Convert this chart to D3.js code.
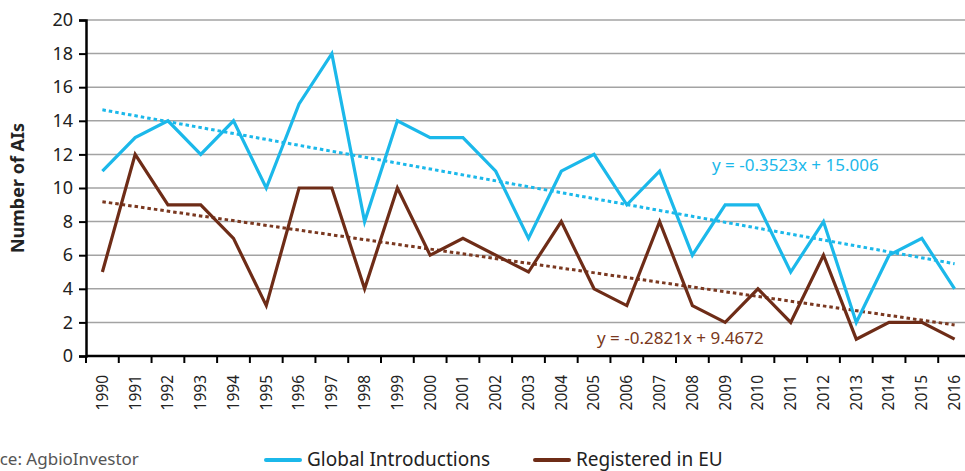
<!DOCTYPE html>
<html>
<head>
<meta charset="utf-8">
<script src="https://cdn.jsdelivr.net/npm/d3@7"></script>
<style>
  body { margin: 0; background: #fff; }
  svg { font-family: "Noto Sans", sans-serif; }
</style>
</head>
<body>
<div id="chart"></div>
<script>
var years = [1990,1991,1992,1993,1994,1995,1996,1997,1998,1999,2000,2001,2002,2003,
             2004,2005,2006,2007,2008,2009,2010,2011,2012,2013,2014,2015,2016];
var globalIntro = [11,13,14,12,14,10,15,18,8,14,13,13,11,7,11,12,9,11,6,9,9,5,8,2,6,7,4];
var registeredEU = [5,12,9,9,7,3,10,10,4,10,6,7,6,5,8,4,3,8,3,2,4,2,6,1,2,2,1];
var yTicks = [0,2,4,6,8,10,12,14,16,18,20];
var trendGlobal = {slope: -0.3523, intercept: 15.006, label: "y = -0.3523x + 15.006"};
var trendEU = {slope: -0.2821, intercept: 9.4672, label: "y = -0.2821x + 9.4672"};

var blue = "#1bb8ea", brown = "#6e2c17";

var width = 965, height = 471;
var svg = d3.select("#chart").append("svg")
  .attr("width", width)
  .attr("height", height);

var x = d3.scaleBand().domain(years).range([86, 971]);
var y = d3.scaleLinear().domain([0, 20]).range([356, 20]);
var cx = function(d){ return x(d) + x.bandwidth()/2; };

// gridlines
svg.append("g")
  .selectAll("line")
  .data(yTicks.slice(1))
  .enter().append("line")
    .attr("x1", 86).attr("x2", 971)
    .attr("y1", function(d){ return y(d); })
    .attr("y2", function(d){ return y(d); })
    .style("stroke", "#a3a3a3")
    .style("stroke-width", 1.5);

// y axis
var yAxis = svg.append("g")
  .attr("transform", "translate(86,0)")
  .call(d3.axisLeft(y).tickValues(yTicks).tickSize(7).tickPadding(6));
yAxis.select(".domain").style("stroke", "#000").style("stroke-width", 2.5);
yAxis.selectAll(".tick line").style("stroke", "#000").style("stroke-width", 2);
yAxis.selectAll("text")
  .style("font-size", "18px")
  .style("fill", "#222")
  .style("font-family", "'Noto Sans', sans-serif");

// x axis
var xAxis = svg.append("g")
  .attr("transform", "translate(0,356)")
  .call(d3.axisBottom(x).tickSize(0).tickPadding(0));
xAxis.select(".domain").remove();
xAxis.append("line")
  .attr("x1", 86).attr("x2", 971)
  .style("stroke", "#000").style("stroke-width", 2.5);
xAxis.selectAll(".boundary")
  .data(years)
  .enter().append("line")
    .attr("class", "boundary")
    .attr("x1", function(d){ return x(d); })
    .attr("x2", function(d){ return x(d); })
    .attr("y1", 0).attr("y2", 7)
    .style("stroke", "#000").style("stroke-width", 2);
xAxis.selectAll(".tick text")
  .attr("transform", "rotate(-90)")
  .attr("x", -19)
  .attr("y", 0)
  .attr("dy", "0.35em")
  .style("text-anchor", "end")
  .style("font-size", "15.5px")
  .style("fill", "#222")
  .style("font-family", "'Noto Sans', sans-serif");

// y title
svg.append("text")
  .attr("transform", "translate(24,188) rotate(-90)")
  .attr("text-anchor", "middle")
  .style("font-size", "18px")
  .style("font-weight", "bold")
  .style("fill", "#222")
  .text("Number of AIs");

// trend lines
function drawTrend(t, color) {
  var pts = [years[0], years[years.length-1]].map(function(yr){
    var i = years.indexOf(yr) + 1;
    return [cx(yr), y(t.slope*i + t.intercept)];
  });
  svg.append("path")
    .attr("d", d3.line()(pts))
    .style("fill", "none")
    .style("stroke", color)
    .style("stroke-width", 3)
    .style("stroke-dasharray", "3.5,3");
}
drawTrend(trendGlobal, blue);
drawTrend(trendEU, "#7a3820");

// series
var line = d3.line()
  .x(function(d, i){ return cx(years[i]); })
  .y(function(d){ return y(d); });

svg.append("path")
  .datum(globalIntro)
  .attr("d", line)
  .style("fill", "none")
  .style("stroke", blue)
  .style("stroke-width", 3.2);

svg.append("path")
  .datum(registeredEU)
  .attr("d", line)
  .style("fill", "none")
  .style("stroke", brown)
  .style("stroke-width", 3.2);

// trend labels
svg.append("text")
  .attr("x", 712).attr("y", 171)
  .style("font-size", "17px")
  .style("fill", blue)
  .text(trendGlobal.label);
svg.append("text")
  .attr("x", 597).attr("y", 344)
  .style("font-size", "17px")
  .style("fill", "#7a3820")
  .text(trendEU.label);

// source (cropped at the left edge, as in the original)
var src = svg.append("text")
  .attr("y", 465)
  .style("font-size", "17px")
  .style("fill", "#555")
  .text("Sour");
var cut = src.node().getComputedTextLength();
src.attr("x", -cut).text("Source: AgbioInvestor");

// legend
var legend = [
  {name: "Global Introductions", color: blue, x: 266},
  {name: "Registered in EU", color: brown, x: 535}
];
var lg = svg.selectAll(".legend")
  .data(legend)
  .enter().append("g")
    .attr("class", "legend")
    .attr("transform", function(d){ return "translate(" + d.x + ",460)"; });
lg.append("line")
  .attr("x1", 0).attr("x2", 34)
  .style("stroke", function(d){ return d.color; })
  .style("stroke-width", 4)
  .style("stroke-linecap", "round");
lg.append("text")
  .attr("x", 41).attr("y", 6)
  .style("font-size", "19px")
  .style("fill", "#222")
  .text(function(d){ return d.name; });
</script>
</body>
</html>
